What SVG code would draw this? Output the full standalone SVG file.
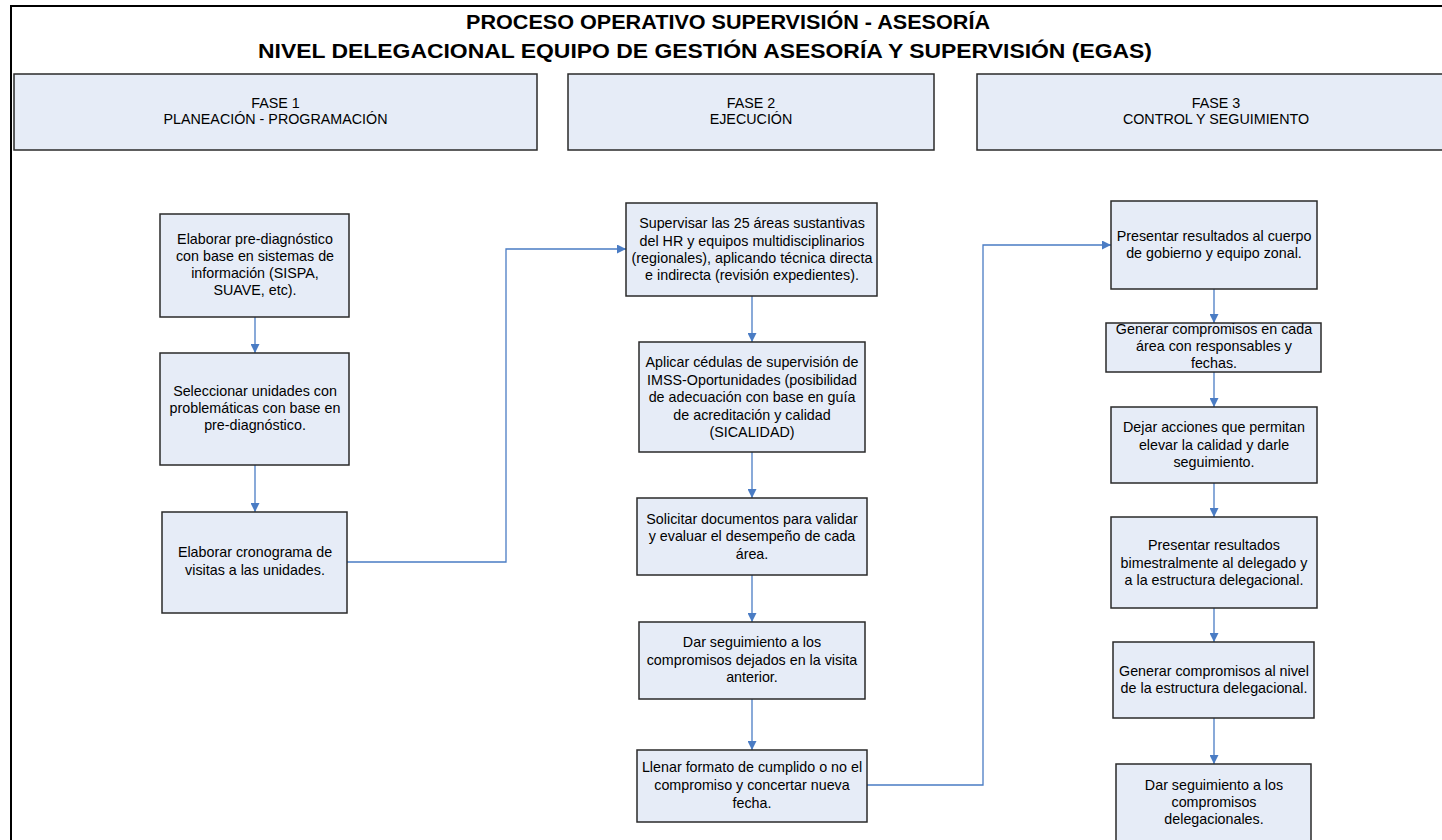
<svg xmlns="http://www.w3.org/2000/svg" width="1442" height="840" viewBox="0 0 1442 840">
  <defs>
    <marker id="arrow" viewBox="0 0 10 10" refX="10" refY="5" markerWidth="9" markerHeight="9" markerUnits="userSpaceOnUse" orient="auto">
      <path d="M0,0 L10,5 L0,10 z" fill="#4A7CC4"/>
    </marker>
    <style>
      .frame { stroke: #000; stroke-width: 2; fill: none; }
      .title { font-family: "Liberation Sans", Arial, sans-serif; font-size: 21px; font-weight: bold; fill: #000; }
      .phase rect, .node rect { fill: #E6ECF7; stroke: #2A2A2A; stroke-width: 1.5; }
      text.lbl { font-family: "Liberation Sans", Arial, sans-serif; font-size: 14.3px; fill: #000; text-anchor: middle; }
      .conn path { fill: none; stroke: #4A7CC4; stroke-width: 1.3; marker-end: url(#arrow); }
    </style>
  </defs>

  <rect width="1442" height="840" fill="#fff"/>

  <!-- page frame: top and left rules -->
  <path class="frame" d="M11,840 V6 H1442"/>

  <!-- heading -->
  <text class="title" x="466" y="29" textLength="524" lengthAdjust="spacingAndGlyphs">PROCESO OPERATIVO SUPERVISIÓN - ASESORÍA</text>
  <text class="title" x="258" y="58" textLength="894" lengthAdjust="spacingAndGlyphs">NIVEL DELEGACIONAL EQUIPO DE GESTIÓN ASESORÍA Y SUPERVISIÓN (EGAS)</text>

  <!-- phase headers -->
  <g id="fase1" class="phase">
    <rect x="14" y="74" width="523" height="76"/>
    <text class="lbl" x="275.5" y="108">FASE 1</text>
    <text class="lbl" x="275.5" y="124">PLANEACIÓN - PROGRAMACIÓN</text>
  </g>
  <g id="fase2" class="phase">
    <rect x="568" y="74" width="366" height="76"/>
    <text class="lbl" x="751" y="108">FASE 2</text>
    <text class="lbl" x="751" y="124">EJECUCIÓN</text>
  </g>
  <g id="fase3" class="phase">
    <rect x="977" y="74" width="480" height="76"/>
    <text class="lbl" x="1216" y="108">FASE 3</text>
    <text class="lbl" x="1216" y="124">CONTROL Y SEGUIMIENTO</text>
  </g>

  <!-- connectors -->
  <g id="connectors" class="conn">
    <path d="M255,317 V353"/>
    <path d="M255,465 V512"/>
    <path d="M347,562 H506 V249 H626"/>
    <path d="M752,296 V342"/>
    <path d="M752,452 V498"/>
    <path d="M752,575 V622"/>
    <path d="M752,699 V750"/>
    <path d="M867,785 H983 V245 H1111"/>
    <path d="M1214,289 V323"/>
    <path d="M1214,372 V407"/>
    <path d="M1214,483 V517"/>
    <path d="M1214,608 V642"/>
    <path d="M1214,718 V764"/>
  </g>

  <!-- phase 1 steps -->
  <g id="p1-prediagnostico" class="node">
    <rect x="160" y="214" width="189" height="103"/>
    <text class="lbl" x="255" y="244">Elaborar pre-diagnóstico</text>
    <text class="lbl" x="255" y="261">con base en sistemas de</text>
    <text class="lbl" x="255" y="278">información (SISPA,</text>
    <text class="lbl" x="255" y="295">SUAVE, etc).</text>
  </g>
  <g id="p1-seleccionar" class="node">
    <rect x="160" y="353" width="189" height="112"/>
    <text class="lbl" x="255" y="396">Seleccionar unidades con</text>
    <text class="lbl" x="255" y="413">problemáticas con base en</text>
    <text class="lbl" x="255" y="430">pre-diagnóstico.</text>
  </g>
  <g id="p1-cronograma" class="node">
    <rect x="162" y="512" width="185" height="101"/>
    <text class="lbl" x="255" y="557">Elaborar cronograma de</text>
    <text class="lbl" x="255" y="575">visitas a las unidades.</text>
  </g>

  <!-- phase 2 steps -->
  <g id="p2-supervisar" class="node">
    <rect x="626" y="203" width="251" height="93"/>
    <text class="lbl" x="752" y="228">Supervisar las 25 áreas sustantivas</text>
    <text class="lbl" x="752" y="245.5">del HR y equipos multidisciplinarios</text>
    <text class="lbl" x="752" y="263">(regionales), aplicando técnica directa</text>
    <text class="lbl" x="752" y="280">e indirecta (revisión expedientes).</text>
  </g>
  <g id="p2-cedulas" class="node">
    <rect x="639" y="342" width="226" height="110"/>
    <text class="lbl" x="752" y="367">Aplicar cédulas de supervisión de</text>
    <text class="lbl" x="752" y="384.5">IMSS-Oportunidades (posibilidad</text>
    <text class="lbl" x="752" y="402">de adecuación con base en guía</text>
    <text class="lbl" x="752" y="419.5">de acreditación y calidad</text>
    <text class="lbl" x="752" y="437">(SICALIDAD)</text>
  </g>
  <g id="p2-documentos" class="node">
    <rect x="637" y="498" width="230" height="77"/>
    <text class="lbl" x="752" y="524">Solicitar documentos para validar</text>
    <text class="lbl" x="752" y="541">y evaluar el desempeño de cada</text>
    <text class="lbl" x="752" y="558.5">área.</text>
  </g>
  <g id="p2-seguimiento" class="node">
    <rect x="639" y="622" width="226" height="77"/>
    <text class="lbl" x="752" y="647">Dar seguimiento a los</text>
    <text class="lbl" x="752" y="664.5">compromisos dejados en la visita</text>
    <text class="lbl" x="752" y="682">anterior.</text>
  </g>
  <g id="p2-formato" class="node">
    <rect x="637" y="750" width="230" height="72"/>
    <text class="lbl" x="752" y="772">Llenar formato de cumplido o no el</text>
    <text class="lbl" x="752" y="790">compromiso y concertar nueva</text>
    <text class="lbl" x="752" y="808">fecha.</text>
  </g>

  <!-- phase 3 steps -->
  <g id="p3-presentar" class="node">
    <rect x="1111" y="201" width="206" height="88"/>
    <text class="lbl" x="1214" y="241">Presentar resultados al cuerpo</text>
    <text class="lbl" x="1214" y="258">de gobierno y equipo zonal.</text>
  </g>
  <g id="p3-compromisos-area" class="node">
    <rect x="1106" y="323" width="215" height="49"/>
    <text class="lbl" x="1214" y="333.5">Generar compromisos en cada</text>
    <text class="lbl" x="1214" y="351">área con responsables y</text>
    <text class="lbl" x="1214" y="368">fechas.</text>
  </g>
  <g id="p3-acciones" class="node">
    <rect x="1111" y="407" width="206" height="76"/>
    <text class="lbl" x="1214" y="432">Dejar acciones que permitan</text>
    <text class="lbl" x="1214" y="449.5">elevar la calidad y darle</text>
    <text class="lbl" x="1214" y="467">seguimiento.</text>
  </g>
  <g id="p3-bimestral" class="node">
    <rect x="1111" y="517" width="206" height="91"/>
    <text class="lbl" x="1214" y="550">Presentar resultados</text>
    <text class="lbl" x="1214" y="567.5">bimestralmente al delegado y</text>
    <text class="lbl" x="1214" y="585">a la estructura delegacional.</text>
  </g>
  <g id="p3-compromisos-nivel" class="node">
    <rect x="1113" y="642" width="201" height="76"/>
    <text class="lbl" x="1214" y="676">Generar compromisos al nivel</text>
    <text class="lbl" x="1214" y="693">de la estructura delegacional.</text>
  </g>
  <g id="p3-seguimiento" class="node">
    <rect x="1116" y="764" width="195" height="90"/>
    <text class="lbl" x="1214" y="790">Dar seguimiento a los</text>
    <text class="lbl" x="1214" y="807">compromisos</text>
    <text class="lbl" x="1214" y="824">delegacionales.</text>
  </g>
</svg>
